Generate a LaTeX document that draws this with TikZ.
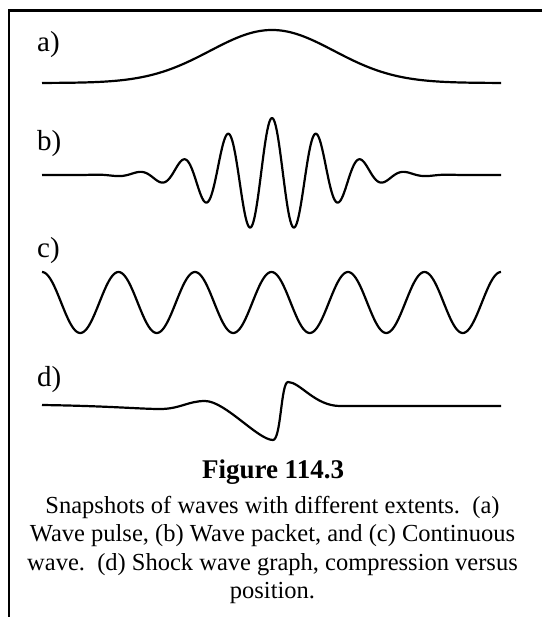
\documentclass[tikz,border=0pt]{standalone}
\usepackage{fontspec}
\setmainfont{Liberation Serif}

\tikzset{
  framerule/.style={line width=2.2pt},
  wavecurve/.style={line width=2.2pt, line join=round},
  panellabel/.style={anchor=base west, inner sep=0pt, font=\fontsize{29}{32}\selectfont},
  figtitle/.style={anchor=base, inner sep=0pt, font=\bfseries\fontsize{27}{30}\selectfont},
  captiontext/.style={anchor=north, inner sep=0pt, align=center, font=\fontsize{24.5}{28.5}\selectfont}
}

\begin{document}
\begin{tikzpicture}[x=1pt, y=-1pt]
\useasboundingbox (0,0) rectangle (542,617);

% frame on the left and on top
\coordinate (frameend) at (542,10.5);
\coordinate (framecorner) at (9,10.5);
\coordinate (framefoot) at (9,617);
\draw[framerule] (frameend) -- (framecorner) -- (framefoot);

% panel labels
\node[panellabel] (labela) at (37,52) {a)};
\node[panellabel] (labelb) at (37,151) {b)};
\node[panellabel] (labelc) at (37,258) {c)};
\node[panellabel] (labeld) at (37,386) {d)};

% a) pulse
\draw[wavecurve] plot[domain=42:501, samples=160]
  (\x, {83 - 53*exp(-0.5*((\x-272)/62)^2)});

% b) packet
\draw[wavecurve] plot[domain=42:501, samples=500]
  (\x, {175 - 57*exp(-0.5*((\x-272)/55)^2)*cos((\x-272)/44.5*360)});

% c) continuous wave
\draw[wavecurve] plot[domain=42:501, samples=400]
  (\x, {302.5 - 30.5*cos((\x-42)/76.5*360)});

% d) shock wave
\coordinate (shockstart) at (42,405);
\coordinate (shockend) at (501,406);
\draw[wavecurve] (shockstart)
  .. controls (110,406) and (140,409) .. (160,409)
  .. controls (180,409) and (188,401) .. (205,401)
  .. controls (225,401) and (258,440) .. (273,440)
  .. controls (281,440) and (281,382) .. (288,382)
  .. controls (300,382) and (315,406) .. (340,406)
  -- (shockend);

% caption
\node[figtitle] (title) at (273,478) {Figure 114.3};
\node[captiontext] (caption) at (272.5,496) {Snapshots of waves with different extents.\ \ (a)\\
  Wave pulse, (b) Wave packet, and (c) Continuous\\
  wave.\ \ (d) Shock wave graph, compression versus\\
  position.};
\end{tikzpicture}
\end{document}
